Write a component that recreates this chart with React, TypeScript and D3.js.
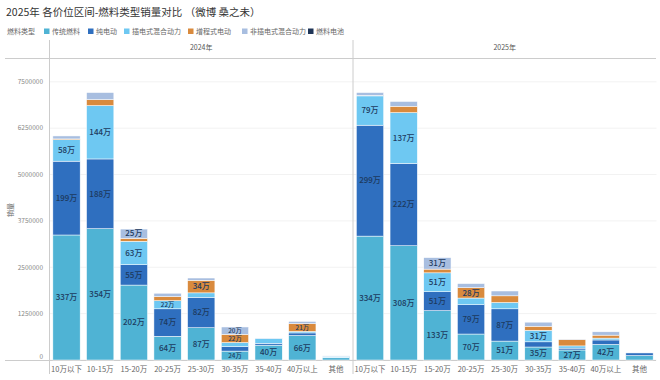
import React from 'react';
import * as d3 from 'd3';

const categories = ['10万以下', '10-15万', '15-20万', '20-25万', '25-30万', '30-35万', '35-40万', '40万以上', '其他'];
const years = ['2024年', '2025年'];
const fuelTypes = ['传统燃料', '纯电动', '插电式混合动力', '增程式电动', '非插电式混合动力', '燃料电池'];
const fuelColors = ['#4fb3d4', '#2f6fbf', '#6ec8f2', '#d98a3d', '#a8bee0', '#1f3557'];

// values in 万 (10k units)
const ice2024 = [337, 354, 202, 64, 87, 24, 40, 66, 6];
const bev2024 = [199, 188, 55, 74, 82, 12, 5, 7, 1];
const phev2024 = [58, 144, 63, 22, 12, 11, 13, 4, 3];
const erev2024 = [2, 16, 8, 11, 34, 22, 0, 21, 0];
const hev2024 = [8, 19, 25, 9, 6, 20, 1, 6, 1];
const fcev2024 = [0, 0, 0, 0, 0, 0, 0, 0, 0];

const ice2025 = [334, 308, 133, 70, 51, 35, 27, 42, 12];
const bev2025 = [299, 222, 51, 79, 87, 14, 5, 12, 7];
const phev2025 = [79, 137, 51, 18, 17, 31, 6, 5, 0];
const erev2025 = [1, 17, 10, 28, 18, 11, 17, 8, 0];
const hev2025 = [8, 13, 31, 11, 13, 11, 1, 9, 0];
const fcev2025 = [0, 0, 0, 0, 0, 0, 0, 0, 0];

const yTicks = [0, 1250000, 2500000, 3750000, 5000000, 6250000, 7500000];

const seriesByYear = [
  [ice2024, bev2024, phev2024, erev2024, hev2024, fcev2024],
  [ice2025, bev2025, phev2025, erev2025, hev2025, fcev2025],
];

const FONT = '"Noto Sans CJK SC", "Noto Sans", sans-serif';

export default function App() {
  const W = 660, H = 380;
  const panelLeft = 49.5, panelW = 303.5;
  const baseY = 360;
  const y = d3.scaleLinear().domain([0, 7500000]).range([baseY, 81.8]);

  const panels = years.map((yr, pi) => {
    const x0 = panelLeft + pi * panelW;
    const x = d3.scaleBand<string>().domain(categories).range([x0, x0 + panelW]).paddingInner(0.19).paddingOuter(0.1);
    const rows = categories.map((c, ci) => {
      const o: any = { cat: c };
      fuelTypes.forEach((f, fi) => { o[f] = seriesByYear[pi][fi][ci] * 10000; });
      return o;
    });
    const stacked = d3.stack<any>().keys(fuelTypes)(rows);
    return { yr, x0, x, stacked };
  });

  return (
    <svg width={W} height={H} style={{ position: 'absolute', left: 0, top: 0, background: '#fff' }} fontFamily={FONT}>
      <text x={6} y={16} fontSize={10.5} fill="#333">2025年 各价位区间-燃料类型销量对比 （微博 桑之未）</text>
      {/* legend */}
      <text x={7} y={34} fontSize={7} fill="#666">燃料类型</text>
      {fuelTypes.map((f, i) => {
        const xs = [44, 88, 124, 188, 242, 308][i];
        return (
          <g key={f}>
            <rect x={xs} y={28.5} width={5.5} height={5.5} fill={fuelColors[i]} />
            <text x={xs + 8} y={34} fontSize={7} fill="#666">{f}</text>
          </g>
        );
      })}
      {/* grid lines */}
      {yTicks.map(t => (
        <line key={t} x1={panelLeft} x2={panelLeft + 2 * panelW} y1={y(t)} y2={y(t)} stroke="#f2f2f2" strokeWidth={1} />
      ))}
      {/* y tick labels */}
      {yTicks.map(t => (
        <text key={'l' + t} x={43} y={t === 0 ? y(t) - 3 : y(t)} dy="0.35em" fontSize={6.5} fill="#888" textAnchor="end">{t}</text>
      ))}
      <text transform={`translate(13,210) rotate(-90)`} fontSize={7} fill="#666" textAnchor="middle">销量</text>
      {/* frame lines */}
      <line x1={5} x2={656} y1={58.5} y2={58.5} stroke="#ccc" />
      <line x1={5} x2={656} y1={360.5} y2={360.5} stroke="#ccc" />
      <line x1={49.5} x2={49.5} y1={40} y2={374} stroke="#ccc" />
      <line x1={353} x2={353} y1={40} y2={374} stroke="#ccc" />
      {panels.map((p, pi) => (
        <g key={p.yr}>
          <text x={p.x0 + panelW / 2} y={50} fontSize={7} fill="#555" textAnchor="middle">{p.yr}</text>
          {p.stacked.map((s, si) => (
            <g key={s.key}>
              {s.map((d, ci) => {
                const h = y(d[0]) - y(d[1]);
                if (h <= 0) return null;
                return (
                  <rect key={ci} x={p.x(categories[ci])} width={p.x.bandwidth()} y={y(d[1])} height={h}
                    fill={fuelColors[si]} stroke="#fff" strokeWidth={0.5} />
                );
              })}
            </g>
          ))}
          {p.stacked.map((s, si) => (
            <g key={'t' + s.key}>
              {s.map((d, ci) => {
                const v = seriesByYear[pi][si][ci];
                if (v < 20) return null;
                const h = y(d[0]) - y(d[1]);
                return (
                  <text key={ci} x={(p.x(categories[ci]) as number) + p.x.bandwidth() / 2} y={(y(d[0]) + y(d[1])) / 2}
                    dy="0.35em" fontSize={h < 9 ? 6.3 : 8} fontWeight={500} fill="#1d3a5e" textAnchor="middle">{v}万</text>
                );
              })}
            </g>
          ))}
          {categories.map(c => (
            <text key={'c' + c} x={(p.x(c) as number) + p.x.bandwidth() / 2} y={369} dy="0.35em" fontSize={7.5} fill="#666" textAnchor="middle">{c}</text>
          ))}
        </g>
      ))}
    </svg>
  );
}
